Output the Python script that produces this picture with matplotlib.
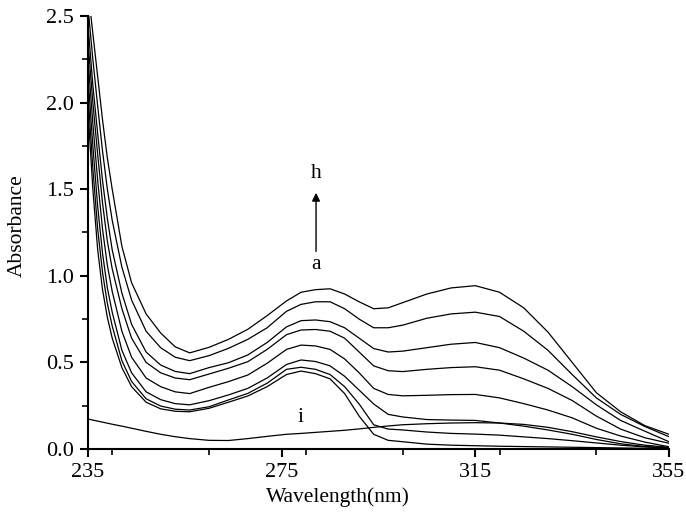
import matplotlib
matplotlib.use("Agg")
import matplotlib.pyplot as plt
from matplotlib.ticker import MultipleLocator

plt.rcParams['font.family'] = ['Liberation Serif', 'DejaVu Serif']

# Wavelength grid (nm)
wavelength = [235, 236, 237, 238, 239, 240, 242, 244, 247, 250, 253, 256,
              260, 264, 268, 272, 276, 279, 282, 285, 288, 291, 294, 297, 300,
              305, 310, 315, 320, 325, 330, 335, 340, 345, 350, 355]

curve_a = [1.95, 1.50, 1.15, 0.92, 0.76, 0.64, 0.47, 0.36, 0.27, 0.232, 0.218, 0.215,
           .235, .27, .306, .36, .43, .45, .435, .405, .32, .19, .085, .05, .042,
           .028, .022, .019, .016, .014, .012, .010, .008, .006, .004, .003]
curve_b = [2.05, 1.62, 1.27, 1.02, 0.84, 0.71, 0.51, 0.39, 0.29, 0.248, 0.23, 0.225,
           .244, .283, .321, .38, .46, .472, .46, .43, .36, .26, .14, .115, .11,
           .098, .09, .086, .08, .07, .06, .048, .035, .022, .012, .005]
curve_c = [2.15, 1.75, 1.40, 1.13, 0.93, 0.79, 0.57, 0.44, 0.33, 0.285, 0.262, 0.255,
           .279, .312, .35, .41, .488, .514, .505, .48, .42, .34, .26, .20, .185,
           .17, .167, .165, .15, .132, .11, .085, .055, .03, .015, .006]
curve_d = [2.25, 1.88, 1.55, 1.27, 1.06, 0.91, 0.68, 0.53, 0.41, 0.36, 0.33, 0.32,
           .356, .389, .427, .495, .575, .60, .595, .575, .52, .44, .35, .315, .307,
           .31, .314, .315, .295, .262, .225, .18, .12, .075, .04, .013]
curve_e = [2.35, 2.00, 1.70, 1.42, 1.20, 1.04, 0.81, 0.64, 0.50, 0.44, 0.41, 0.40,
           .433, .466, .504, .575, .66, .687, .69, .68, .64, .56, .48, .452, .447,
           .46, .47, .475, .455, .405, .35, .28, .19, .115, .065, .033]
curve_f = [2.45, 2.10, 1.82, 1.55, 1.33, 1.15, 0.90, 0.72, 0.56, 0.485, 0.448, 0.435,
           .47, .498, .543, .615, .705, .741, .745, .735, .70, .64, .58, .56, .565,
           .585, .605, .615, .585, .525, .455, .36, .255, .165, .103, .042]
curve_g = [2.55, 2.25, 1.98, 1.72, 1.50, 1.32, 1.05, 0.86, 0.68, 0.585, 0.53, 0.51,
           .539, .581, .633, .70, .795, .835, .85, .85, .81, .75, .70, .70, .715,
           .755, .78, .79, .765, .68, .57, .43, .295, .20, .13, .071]
curve_h = [2.65, 2.40, 2.15, 1.90, 1.68, 1.50, 1.17, 0.96, 0.78, 0.67, 0.59, 0.555,
           .587, .633, .691, .77, .855, .905, .92, .925, .895, .85, .81, .815, .845,
           .895, .93, .943, .905, .815, .675, .50, .325, .215, .135, .085]
curve_i = [.173, .167, .161, .155, .149, .143, .132, .12, .102, .085, .071, .06,
           .05, .049, .06, .073, .085, .09, .096, .102, .108, .116, .125, .133, .14,
           .146, .15, .152, .15, .142, .125, .10, .07, .043, .022, .01]

curves = [curve_a, curve_b, curve_c, curve_d, curve_e, curve_f, curve_g, curve_h, curve_i]

x_ticks = [235, 275, 315, 355]
y_ticks = [0.0, 0.5, 1.0, 1.5, 2.0, 2.5]

fig = plt.figure(figsize=(6.86, 5.18), dpi=100)
ax = fig.add_axes([88/686, 69/518, (669-88)/686, (449-16)/518])

for c in curves:
    ax.plot(wavelength, c, color='black', lw=0.9)

ax.set_xlim(235, 355)
ax.set_ylim(0, 2.5)
ax.set_xticks(x_ticks)
ax.set_yticks(y_ticks)
ax.set_yticklabels([f"{v:.1f}" for v in y_ticks])
ax.xaxis.set_minor_locator(MultipleLocator(20))
ax.yaxis.set_minor_locator(MultipleLocator(0.25))

for s in ['top', 'right']:
    ax.spines[s].set_visible(False)
for s in ['left', 'bottom']:
    ax.spines[s].set_linewidth(1.5)

ax.tick_params(which='major', direction='out', length=6, width=1.5, labelsize=16, pad=4)
ax.tick_params(which='minor', direction='out', length=4, width=1.2)

ax.set_xlabel('Wavelength(nm)', fontsize=15.5)
ax.set_ylabel('Absorbance', fontsize=15.5)
ax.xaxis.set_label_coords(0.43, -0.088)
ax.yaxis.set_label_coords(-0.105, 0.517)

ax.text(282.1, 1.59, 'h', fontsize=15.5, ha='center', va='center')
ax.text(282.1, 1.065, 'a', fontsize=15.5, ha='center', va='center')
ax.text(278.8, 0.18, 'i', fontsize=15.5, ha='center', va='center')
ax.annotate('', xy=(282.1, 1.495), xytext=(282.1, 1.125),
            arrowprops=dict(arrowstyle='-|>', lw=1.0, color='black', mutation_scale=12))

fig.savefig('out.png', dpi=100)
